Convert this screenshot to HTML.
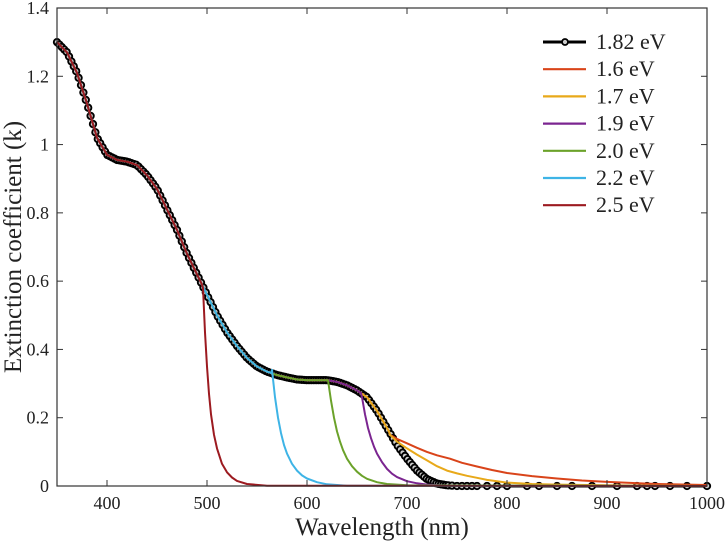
<!DOCTYPE html>
<html><head><meta charset="utf-8"><style>
body{margin:0;background:#fff;}
svg text{font-family:"Liberation Serif",serif;fill:#222;}
</style></head><body>
<svg id="chart" width="726" height="547" viewBox="0 0 726 547">
<g id="grid"></g>
<g id="series"></g>
<g id="axes"></g>
<g id="legend"></g>
</svg>
<script>
const mainWl = [350,360,370,380,390,400,410,420,430,440,450,460,470,480,490,500,510,520,530,540,550,560,570,580,590,600,610,620,630,640,650,660,670,680,690,700,710,720,730,740,750,1000];
const mainK  = [1.30,1.27,1.21,1.12,1.02,0.97,0.955,0.95,0.94,0.91,0.87,0.81,0.75,0.68,0.62,0.56,0.50,0.45,0.41,0.375,0.35,0.335,0.325,0.318,0.312,0.31,0.31,0.31,0.305,0.295,0.28,0.26,0.22,0.17,0.12,0.08,0.045,0.02,0.007,0.002,0,0];
const sparseMarkerWl = [745,750,755,760,765,770,780,790,800,820,832,850,865,885,910,930,940,948,963,980,1000];
const seriesLabels = ["1.6 eV","1.7 eV","1.9 eV","2.0 eV","2.2 eV","2.5 eV"];
const seriesColors = ["#d9441a","#e8a91a","#7b2590","#6ba22a","#3eb4e6","#9c1a20"];
const tailWl = [
 [683,690,700,710,720,730,743,755,770,785,800,825,850,875,900,950,1000],
 [683,690,700,710,720,730,740,750,760,770,780,790,800,825,850,900,1000],
 [655,658,661,664,667,670,675,680,685,690,700,710,720,740,1000],
 [621,624,627,630,633,636,640,645,650,655,660,670,680,700,1000],
 [565,568,571,574,577,580,585,590,595,600,610,620,640,1000],
 [496,498,500,502,504,507,510,515,520,525,530,540,560,1000]];
const tailK = [
 [0.15,0.138,0.125,0.112,0.10,0.09,0.08,0.068,0.057,0.047,0.038,0.029,0.022,0.016,0.012,0.006,0.003],
 [0.15,0.13,0.11,0.092,0.075,0.058,0.045,0.037,0.03,0.024,0.018,0.014,0.01,0.006,0.004,0.002,0],
 [0.26,0.21,0.17,0.14,0.115,0.095,0.07,0.05,0.036,0.026,0.014,0.008,0.004,0.001,0],
 [0.31,0.25,0.20,0.16,0.13,0.105,0.08,0.058,0.042,0.03,0.021,0.011,0.006,0.002,0],
 [0.34,0.26,0.20,0.155,0.12,0.095,0.065,0.045,0.031,0.022,0.011,0.005,0.001,0],
 [0.58,0.45,0.35,0.27,0.21,0.15,0.11,0.065,0.04,0.025,0.015,0.006,0.001,0]];
const xTicks = [400,500,600,700,800,900,1000];
const yTicks = [0,0.2,0.4,0.6,0.8,1,1.2,1.4];
const yTickLabels = ["0","0.2","0.4","0.6","0.8","1","1.2","1.4"];

const L=57,R=707,T=8,B=486;
const X=w=>L+(w-350)/650*(R-L);
const Y=k=>B-k/1.4*(B-T);
const NS="http://www.w3.org/2000/svg";
function mk(tag,attrs,parent){const e=document.createElementNS(NS,tag);for(const a in attrs)e.setAttribute(a,attrs[a]);parent.appendChild(e);return e;}
function interp(w){for(let i=0;i<mainWl.length-1;i++){if(w<=mainWl[i+1]){const t=(w-mainWl[i])/(mainWl[i+1]-mainWl[i]);return mainK[i]+t*(mainK[i+1]-mainK[i]);}}return mainK[mainK.length-1];}
function smooth(pts){let p="M"+pts[0][0].toFixed(1)+","+pts[0][1].toFixed(1);
 for(let i=0;i<pts.length-1;i++){const p0=pts[Math.max(0,i-1)],p1=pts[i],p2=pts[i+1],p3=pts[Math.min(pts.length-1,i+2)];
  const c1=[p1[0]+(p2[0]-p0[0])/6,Math.min(B,p1[1]+(p2[1]-p0[1])/6)],c2=[p2[0]-(p3[0]-p1[0])/6,Math.min(B,p2[1]-(p3[1]-p1[1])/6)];
  p+="C"+c1.map(v=>v.toFixed(1))+" "+c2.map(v=>v.toFixed(1))+" "+p2[0].toFixed(1)+","+p2[1].toFixed(1);}
 return p;}
function linear(pts){return pts.map((q,i)=>(i?"L":"M")+q[0].toFixed(1)+","+q[1].toFixed(1)).join("");}
const sg=document.getElementById('series');
const mainPts=[];for(let w=350;w<=1000;w+=1)mainPts.push([X(w),Y(interp(w))]);
const mainLine=mk('path',{d:smooth(mainPts),fill:'none',stroke:'#000','stroke-width':3},sg);


const mg=mk('g',{},sg);


const mw=[];for(let w=350;w<=742;w+=2.4)mw.push(w);
mw.concat(sparseMarkerWl).forEach(w=>{
 const c=mk('circle',{cx:X(w),cy:Y(interp(w)),r:3.2,fill:'#ccc',stroke:'#000','stroke-width':1.9},mg);
 
 
});
for(let s=0;s<seriesLabels.length;s++){
 const cut=tailWl[s][0];
 const pts=[];
 for(let w=350;w<cut;w+=1)pts.push([X(w),Y(interp(w))]);
 tailWl[s].forEach((w,i)=>pts.push([X(w),Y(tailK[s][i])]));
 const ln=mk('path',{d:linear(pts),fill:'none',stroke:seriesColors[s],'stroke-width':2,'stroke-linejoin':'round'},sg);
 
 
}
const ag=document.getElementById('axes');
const frame=mk('rect',{x:L,y:T,width:R-L,height:B-T,fill:'none',stroke:'#333','stroke-width':1.2},ag);


xTicks.forEach(v=>{
 mk('line',{x1:X(v),x2:X(v),y1:B,y2:B-6,stroke:'#333'},ag);
 mk('line',{x1:X(v),x2:X(v),y1:T,y2:T+6,stroke:'#333'},ag);
 const t=mk('text',{x:X(v),y:B+23,'text-anchor':'middle','font-size':18},ag);t.textContent=v;
 
 
});
yTicks.forEach((v,i)=>{
 mk('line',{x1:L,x2:L+6,y1:Y(v),y2:Y(v),stroke:'#333'},ag);
 mk('line',{x1:R,x2:R-6,y1:Y(v),y2:Y(v),stroke:'#333'},ag);
 const t=mk('text',{x:L-8,y:Y(v)+6,'text-anchor':'end','font-size':18},ag);t.textContent=yTickLabels[i];
 
 
});
const xt=mk('text',{x:382,y:535,'text-anchor':'middle','font-size':25},ag);xt.textContent="Wavelength (nm)";


const yt=mk('text',{x:0,y:0,'text-anchor':'middle','font-size':25,transform:'translate(21,247) rotate(-90)'},ag);yt.textContent="Extinction coefficient (k)";


const lg=document.getElementById('legend');
const labels=["1.82 eV"].concat(seriesLabels), cols=["#000"].concat(seriesColors);
labels.forEach((lab,i)=>{
 const y=42+i*27.2;
 const g=mk('g',{},lg);
 
 
 mk('line',{x1:543,x2:586,y1:y,y2:y,stroke:cols[i],'stroke-width':i?2.2:3},g);
 if(!i) mk('circle',{cx:565,cy:y,r:3,fill:'#ccc',stroke:'#000','stroke-width':1.8},g);
 const t=mk('text',{x:596,y:y+7,'font-size':22},g);t.textContent=lab;
});
</script>
</body></html>
